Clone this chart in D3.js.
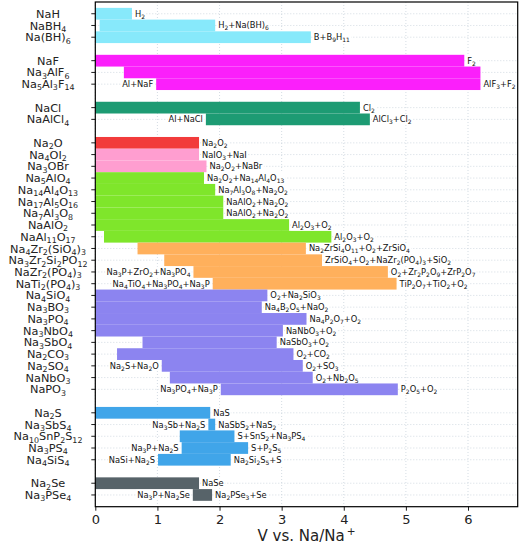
<!DOCTYPE html>
<html><head><meta charset="utf-8">
<script src="https://cdn.jsdelivr.net/npm/d3@7"></script>
<style>body{margin:0;background:#fff;}text{font-family:"DejaVu Sans",sans-serif;}</style>
</head><body>
<svg id="chart" width="520" height="545"></svg>
<script>
// ---------------- data ----------------
const compounds = ["NaH","NaBH4","Na(BH)6","NaF","Na3AlF6","Na5Al3F14","NaCl","NaAlCl4",
  "Na2O","Na4OI2","Na3OBr","Na5AlO4","Na14Al4O13","Na17Al5O16","Na7Al3O8","NaAlO2","NaAl11O17",
  "Na4Zr2(SiO4)3","Na3Zr2Si2PO12","NaZr2(PO4)3","NaTi2(PO4)3",
  "Na4SiO4","Na3BO3","Na3PO4","Na3NbO4","Na3SbO4","Na2CO3","Na2SO4","NaNbO3","NaPO3",
  "Na2S","Na3SbS4","Na10SnP2S12","Na3PS4","Na4SiS4","Na2Se","Na3PSe4"];
// row slot of each compound (blank slots separate the families)
const rowSlot = [0,1,2,4,5,6,8,9,11,12,13,14,15,16,17,18,19,20,21,22,23,24,25,26,27,28,29,30,31,32,34,35,36,37,38,40,41];
const family = ["H","H","H","F","F","F","Cl","Cl","O1","O2","O2","Al","Al","Al","Al","Al","Al",
  "Zr","Zr","Zr","Zr","Ox","Ox","Ox","Ox","Ox","Ox","Ox","Ox","Ox","S","S","S","S","S","Se","Se"];
const reductionV = [0,0.07,0,0,0.46,0.98,0,1.78,
  0,0,0,0,0,0,0,0,0.14,
  0.68,1.11,1.58,1.89,
  0,0,0,0,0.76,0.35,1.07,1.20,2.02,
  0,1.82,1.36,1.39,1.01,0,1.57];
const oxidationV = [0.59,1.93,3.47,5.94,6.20,6.20,4.26,4.42,
  1.67,1.67,1.79,1.75,1.93,2.06,2.06,3.12,3.80,
  3.39,3.65,4.71,4.85,
  2.77,2.68,3.40,3.02,2.92,3.19,3.34,3.50,4.87,
  1.85,1.93,2.24,2.46,2.18,1.67,1.88];
const reductionProducts = ["","","","","","Al+NaF","","Al+NaCl",
  "","","","","","","","","",
  "","","Na3P+ZrO2+Na3PO4","Na4TiO4+Na3PO4+Na3P",
  "","","","","","","Na2S+Na2O","","Na3PO4+Na3P",
  "","Na3Sb+Na2S","","Na3P+Na2S","NaSi+Na2S","","Na3P+Na2Se"];
const oxidationProducts = ["H2","H2+Na(BH)6","B+B9H11","F2","","AlF3+F2","Cl2","AlCl3+Cl2",
  "Na2O2","NaIO3+NaI","Na2O2+NaBr","Na2O2+Na14Al4O13","Na7Al3O8+Na2O2","NaAlO2+Na2O2","NaAlO2+Na2O2","Al2O3+O2","Al2O3+O2",
  "Na2ZrSi4O11+O2+ZrSiO4","ZrSiO4+O2+NaZr2(PO4)3+SiO2","O2+Zr2P2O9+ZrP2O7","TiP2O7+TiO2+O2",
  "O2+Na2SiO3","Na4B2O5+NaO2","Na4P2O7+O2","NaNbO3+O2","NaSbO3+O2","O2+CO2","O2+SO3","O2+Nb2O5","P2O5+O2",
  "NaS","NaSbS2+NaS2","S+SnS2+Na3PS4","S+P2S5","Na2Si2S5+S","NaSe","Na2PSe3+Se"];
const xTicks = [0,1,2,3,4,5,6];
const xLabel = "V vs. Na/Na";

// ---------------- styles ----------------
const familyColors = {H:"#87e9fb",F:"#fb1ffb",Cl:"#1d9b73",O1:"#f23b3b",O2:"#ff9ed0",Al:"#7fe62b",
  Zr:"#ffb05c",Ox:"#8c84f0",S:"#40a5e9",Se:"#576369"};

const svg = d3.select("#chart");
const L = 95.3, R = 517.7, T = 2, B = 506.7;
const x = d3.scaleLinear().domain([0, 6.8]).range([L, R]);
const y = d3.scaleLinear().domain([-1, 42]).range([T, B]);
const rowH = y(1) - y(0);

function rich(textSel, str, size, subScale, subShift) {
  const parts = str.match(/\d+|[^\d]+/g) || [];
  let shift = 0;
  parts.forEach((p, i) => {
    const isSub = /^\d+$/.test(p) && i > 0;
    const t = textSel.append("tspan").text(p);
    if (isSub) { const s = size * subShift; t.attr("font-size", size * subScale).attr("dy", s - shift); shift = s; }
    else { t.attr("dy", -shift); shift = 0; }
  });
}

// grid
const grid = svg.append("g");
grid.selectAll("line.gx").data(xTicks).join("line")
  .attr("x1", d => x(d)).attr("x2", d => x(d)).attr("y1", T).attr("y2", B)
  .attr("stroke", "#c9d3dc").attr("stroke-width", 0.8).attr("stroke-dasharray", "1,2");
grid.selectAll("line.gy").data(rowSlot).join("line")
  .attr("x1", L).attr("x2", R).attr("y1", d => y(d)).attr("y2", d => y(d))
  .attr("stroke", "#c9d3dc").attr("stroke-width", 0.8).attr("stroke-dasharray", "1,2");

// bars
svg.append("g").selectAll("rect").data(compounds).join("rect")
  .attr("x", (d, i) => x(reductionV[i]))
  .attr("width", (d, i) => x(oxidationV[i]) - x(reductionV[i]))
  .attr("y", (d, i) => y(rowSlot[i]) - rowH / 2)
  .attr("height", rowH)
  .attr("fill", (d, i) => familyColors[family[i]]);

// product labels
const fs = 8.3;
const labG = svg.append("g");
function addLabel(str, xp, yp, anchor) {
  const g = labG.append("g");
  const t = g.append("text").attr("x", xp).attr("y", yp + fs * 0.36)
    .attr("font-size", fs).attr("fill", "#111").attr("text-anchor", anchor);
  rich(t, str, fs, 0.72, 0.24);
  const bb = t.node().getBBox();
  g.insert("rect", "text").attr("x", bb.x - 1).attr("y", yp - rowH / 2 + 0.6)
    .attr("width", bb.width + 2).attr("height", rowH - 1.2).attr("fill", "#fff");
}
compounds.forEach((c, i) => {
  const yp = y(rowSlot[i]);
  if (oxidationProducts[i]) addLabel(oxidationProducts[i], x(oxidationV[i]) + 3, yp, "start");
  if (reductionProducts[i]) addLabel(reductionProducts[i], x(reductionV[i]) - 3, yp, "end");
});

// frame
svg.append("rect").attr("x", L).attr("y", T).attr("width", R - L).attr("height", B - T)
  .attr("fill", "none").attr("stroke", "#000").attr("stroke-width", 1.2);

// y ticks & labels
const yfs = 11.3;
compounds.forEach((c, i) => {
  const yp = y(rowSlot[i]);
  svg.append("line").attr("x1", L - 4).attr("x2", L).attr("y1", yp).attr("y2", yp).attr("stroke", "#000").attr("stroke-width", 0.9);
  const t = svg.append("text").attr("x", 48).attr("y", yp + yfs * 0.36).attr("text-anchor", "middle")
    .attr("font-size", yfs).attr("fill", "#222");
  rich(t, c, yfs, 0.7, 0.2);
});

// x axis
const xAxis = d3.axisBottom(x).tickValues(xTicks).tickSize(4).tickPadding(4).tickFormat(d3.format("d"));
const xg = svg.append("g").attr("transform", `translate(0,${B})`).call(xAxis);
xg.select(".domain").remove();
xg.selectAll("text").attr("font-size", 13).attr("fill", "#222").attr("font-family", "DejaVu Sans");
xg.selectAll("line").attr("stroke-width", 0.9);

const xl = svg.append("text").attr("x", (L + R) / 2).attr("y", 541).attr("text-anchor", "middle")
  .attr("font-size", 15).attr("fill", "#222");
xl.append("tspan").text(xLabel);
xl.append("tspan").text("+").attr("font-size", 10.5).attr("dy", -6).attr("dx", 2);
</script>
</body></html>
